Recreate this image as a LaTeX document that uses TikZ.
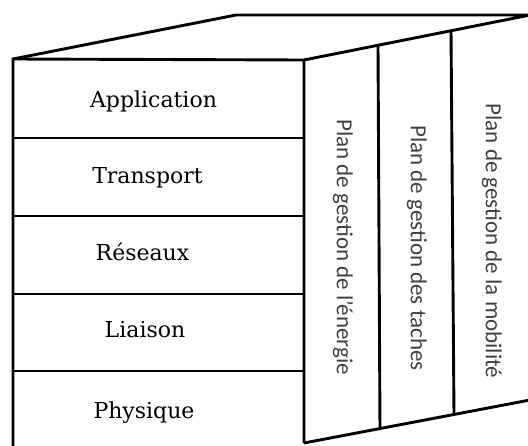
\documentclass[tikz,border=0pt]{standalone}
\usepackage{fontspec}
\newfontfamily\layerfont{DejaVu Serif}
\newfontfamily\planfont{Carlito}
\begin{document}
\begin{tikzpicture}[x=1pt,y=-1pt,
  edge/.style={line width=2.9pt,line join=miter,line cap=butt},
  layer/.style={font=\layerfont\fontsize{22}{26}\selectfont,text=black,anchor=base,inner sep=0pt},
  plan/.style={font=\planfont\fontsize{23}{27}\selectfont,text=black!75,rotate=-90,inner sep=0pt}]
\useasboundingbox (0,0) rectangle (528,445);
\clip (0,0) rectangle (528,445);
% corners of the block
\coordinate (ftl) at (13,59);
\coordinate (ftr) at (304,60);
\coordinate (fbl) at (13,460);
\coordinate (fbr) at (304,443);
\coordinate (btl) at (236,15);
\coordinate (btr) at (530,15);
\coordinate (bbr) at (530,400);
% front face
\draw[edge] (fbl) -- (ftl) -- (ftr) -- (fbr);
% top face
\draw[edge] (ftl) -- (btl) -- (btr) -- (ftr);
% right face
\draw[edge] (fbr) -- (bbr);
\coordinate (d1t) at (378,44.5);
\coordinate (d1b) at (380,430);
\coordinate (d2t) at (451,30);
\coordinate (d2b) at (454,415);
\draw[edge] (d1t) -- (d1b);
\draw[edge] (d2t) -- (d2b);
% layer separators
\foreach \y in {138,216,294,371}
  \draw[edge] (13,\y) -- (304,\y);
% layer names
\node[layer] (app) at (153.5,107) {Application};
\node[layer] (tra) at (147.5,183) {Transport};
\node[layer] (res) at (142.5,260) {Réseaux};
\node[layer] (lia) at (145,337) {Liaison};
\node[layer] (phy) at (144,418) {Physique};
% cross-layer management planes
\node[plan] (pe) at (343,247) {Plan de gestion de l’énergie};
\node[plan] (pt) at (417,248) {Plan de gestion des taches};
\node[plan] (pm) at (492,241) {Plan de gestion de la mobilité};
\end{tikzpicture}
\end{document}
